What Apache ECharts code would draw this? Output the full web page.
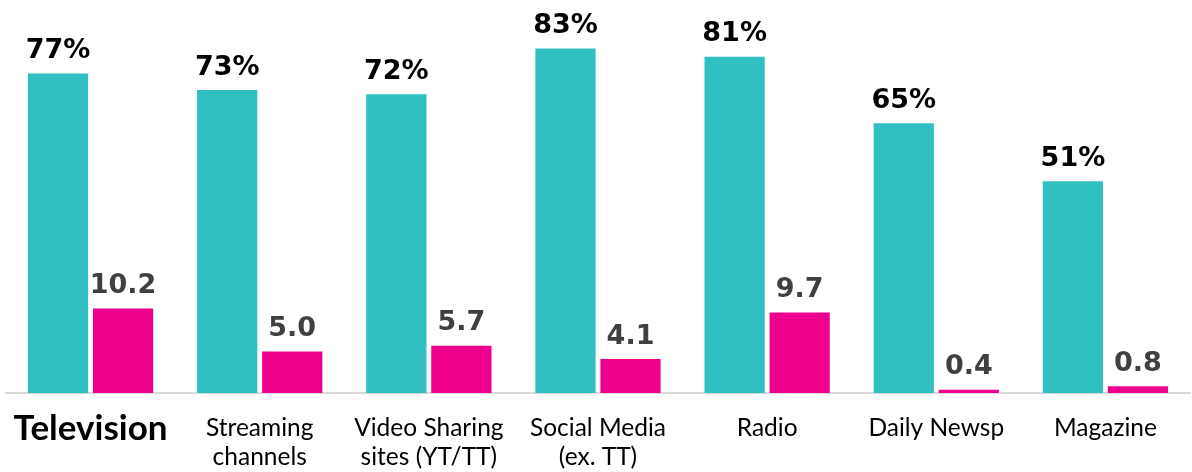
<!DOCTYPE html>
<html>
<head>
<meta charset="utf-8">
<script src="https://cdn.jsdelivr.net/npm/echarts@6/dist/echarts.min.js"></script>
<style>
  html, body { margin: 0; padding: 0; background: #fff; }
  #chart { width: 1192px; height: 472px; }
</style>
</head>
<body>
<div id="chart"></div>
<script>
  // categories + the two series
  var categories = ['Television', 'Streaming\nchannels', 'Video Sharing\nsites (YT/TT)', 'Social Media\n(ex. TT)', 'Radio', 'Daily Newsp', 'Magazine']
  var reachPct = [77, 73, 72, 83, 81, 65, 51]
  var scoreVals = [10.2, 5.0, 5.7, 4.1, 9.7, 0.4, 0.8]

  var chart = echarts.init(document.getElementById('chart'))
  chart.setOption({
    animation: false,
    grid: {
      left: 6,
      right: 2,
      top: 0,
      bottom: 79,
      containLabel: false
    },
    xAxis: {
      type: 'category',
      data: categories,
      axisLine: { lineStyle: { color: '#d9d9d9', width: 2 } },
      axisTick: { show: false },
      axisLabel: {
        interval: 0,
        margin: 21,
        color: '#000',
        fontFamily: 'Lato',
        fontSize: 24.5,
        lineHeight: 29,
        formatter: function (val, idx) {
          return idx === 0 ? '{tv|' + val + '}' : val
        },
        rich: {
          tv: { fontFamily: 'Lato', fontWeight: 'bold', fontSize: 35, lineHeight: 29, color: '#000' }
        }
      }
    },
    yAxis: [{
      type: 'value',
      min: 0,
      max: 94.7,
      show: false,
      splitLine: { show: false }
    }, {
      type: 'value',
      min: 0,
      max: 47.4,
      show: false,
      splitLine: { show: false }
    }],
    series: [{
      name: 'reach',
      type: 'bar',
      yAxisIndex: 0,
      data: reachPct,
      barWidth: '35.6%',
      barGap: '8%',
      itemStyle: { color: '#31bfc1' },
      label: {
        show: true,
        position: 'top',
        distance: 9,
        formatter: '{c}%',
        color: '#000',
        fontFamily: 'DejaVu Sans',
        fontWeight: 'bold',
        fontSize: 27
      }
    }, {
      name: 'score',
      type: 'bar',
      yAxisIndex: 1,
      data: scoreVals,
      barWidth: '35.6%',
      itemStyle: { color: '#ec008c' },
      label: {
        show: true,
        position: 'top',
        distance: 9,
        formatter: function (p) { return p.value.toFixed(1) },
        color: '#404040',
        fontFamily: 'DejaVu Sans',
        fontWeight: 'bold',
        fontSize: 27
      }
    }]
  })
</script>
</body>
</html>
